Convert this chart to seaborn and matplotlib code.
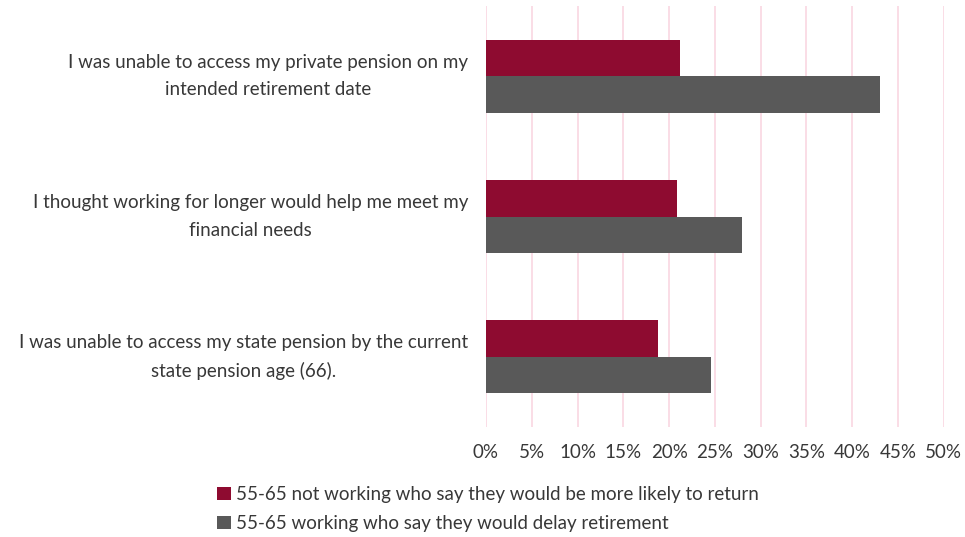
import matplotlib
matplotlib.use("Agg")
import matplotlib.pyplot as plt
from matplotlib.patches import Patch
import seaborn as sns
import pandas as pd

categories = [
    "I was unable to access my private pension on my\nintended retirement date",
    "I thought working for longer would help me meet my\nfinancial needs",
    "I was unable to access my state pension by the current\nstate pension age (66).",
]
series_names = [
    "55-65 not working who say they would be more likely to return",
    "55-65 working who say they would delay retirement",
]
not_working = [21.2, 20.9, 18.8]
working = [43.0, 28.0, 24.6]
x_ticks = [0, 5, 10, 15, 20, 25, 30, 35, 40, 45, 50]

colors = ["#8E0B30", "#595959"]
text_color = "#383838"
font_size = 13.5

df = pd.DataFrame({
    "category": categories * 2,
    "series": [series_names[0]] * 3 + [series_names[1]] * 3,
    "value": not_working + working,
})

sns.set_theme(style="white")
plt.rcParams["font.family"] = ["Lato", "DejaVu Sans"]

fig = plt.figure(figsize=(9.65, 5.37), dpi=100)
ax = fig.add_axes([0.5036, 0.2048, 0.4744, 0.784])

sns.barplot(data=df, y="category", x="value", hue="series", order=categories,
            hue_order=series_names, palette=colors, saturation=1, orient="h",
            width=0.52, gap=0, ax=ax, legend=False, edgecolor="none", linewidth=0)

ax.set_xlim(0, 50)
ax.set_xticks(x_ticks)
ax.set_xticklabels([f"{t}%" for t in x_ticks])
ax.grid(axis="x", color="#F9D3DF", linewidth=1.1)
ax.set_axisbelow(True)
for s in ax.spines.values():
    s.set_visible(False)
ax.set_xlabel("")
ax.set_ylabel("")
ax.tick_params(axis="x", length=0, pad=12, labelsize=font_size, labelcolor=text_color)
ax.tick_params(axis="y", length=0, pad=13, labelsize=font_size, labelcolor=text_color)
for lbl in ax.get_yticklabels():
    lbl.set_multialignment("center")
    lbl.set_verticalalignment("center")
    lbl.set_linespacing(1.75)

handles = [Patch(facecolor=c, edgecolor="none") for c in colors]
fig.legend(handles, series_names, loc="center", bbox_to_anchor=(0.506, 0.052),
           ncol=1, frameon=False, handlelength=0.7, handleheight=0.7,
           handletextpad=0.3, labelspacing=0.62, labelcolor=text_color,
           prop={"size": font_size})

fig.savefig("out.png", dpi=100)
